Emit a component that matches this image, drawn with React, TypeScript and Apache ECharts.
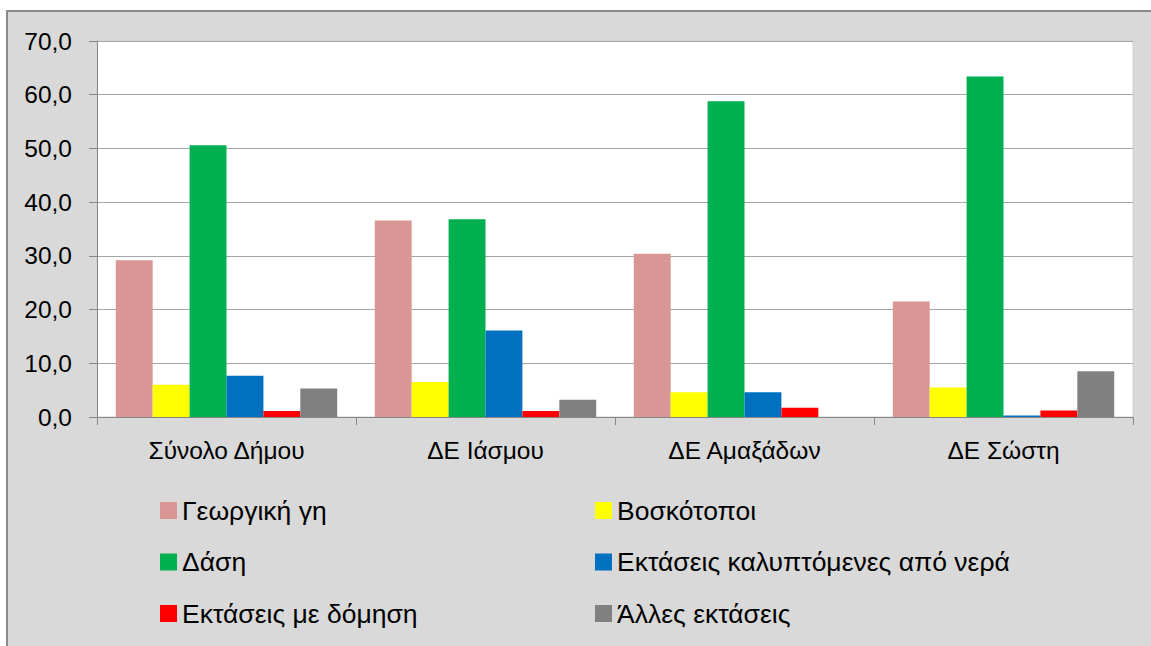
import React, { useEffect, useRef } from "react";
import * as echarts from "echarts";

const categories = ["Σύνολο Δήμου", "ΔΕ Ιάσμου", "ΔΕ Αμαξάδων", "ΔΕ Σώστη"];
const seriesNames = [
  "Γεωργική γη",
  "Βοσκότοποι",
  "Δάση",
  "Εκτάσεις καλυπτόμενες από νερά",
  "Εκτάσεις με δόμηση",
  "Άλλες εκτάσεις",
];
const agricultural = [29.2, 36.6, 30.4, 21.5];
const pastures = [6.0, 6.5, 4.6, 5.5];
const forests = [50.6, 36.8, 58.8, 63.4];
const water = [7.7, 16.1, 4.6, 0.3];
const builtUp = [1.1, 1.1, 1.7, 1.2];
const other = [5.3, 3.2, 0.0, 8.5];
const seriesValues = [agricultural, pastures, forests, water, builtUp, other];
const colors = ["#D99694", "#FFFF00", "#00B050", "#0070C0", "#FF0000", "#808080"];
const yTicks = [0, 10, 20, 30, 40, 50, 60, 70];

const FONT = "'Liberation Sans', Arial, sans-serif";

export default function App() {
  const ref = useRef<HTMLDivElement>(null);
  useEffect(() => {
    if (!ref.current) return;
    const chart = echarts.init(ref.current, undefined, { renderer: "svg" });
    const legendText = { fontSize: 26.5, color: "#000", fontFamily: FONT, lineHeight: 26 };
    chart.setOption({
      animation: false,
      backgroundColor: "#ffffff",
      textStyle: { fontFamily: FONT },
      graphic: [
        {
          type: "rect",
          z: -10,
          silent: true,
          shape: { x: 7, y: 11, width: 1160, height: 650 },
          style: { fill: "#D9D9D9", stroke: "#8C8C8C", lineWidth: 2 },
        },
      ],
      grid: {
        left: 97,
        right: 18,
        top: 41,
        bottom: 229,
        show: true,
        backgroundColor: "#ffffff",
        borderColor: "#D0D0D0",
        borderWidth: 1,
        containLabel: false,
      },
      legend: [
        {
          orient: "vertical",
          left: 155,
          top: 492,
          padding: 5,
          itemWidth: 17,
          itemHeight: 17,
          itemGap: 24.5,
          icon: "rect",
          data: [seriesNames[0], seriesNames[2], seriesNames[4]],
          textStyle: legendText,
        },
        {
          orient: "vertical",
          left: 590,
          top: 492,
          padding: 5,
          itemWidth: 17,
          itemHeight: 17,
          itemGap: 24.5,
          icon: "rect",
          data: [seriesNames[1], seriesNames[3], seriesNames[5]],
          textStyle: legendText,
        },
      ],
      xAxis: {
        type: "category",
        data: categories,
        axisLine: { show: true, lineStyle: { color: "#868686", width: 1 } },
        axisTick: { show: true, length: 8, alignWithLabel: false, lineStyle: { color: "#868686" } },
        axisLabel: { fontSize: 24.5, color: "#000", margin: 21, fontFamily: FONT },
        splitLine: { show: false },
      },
      yAxis: {
        type: "value",
        min: yTicks[0],
        max: yTicks[yTicks.length - 1],
        interval: 10,
        axisLine: { show: true, lineStyle: { color: "#868686", width: 1 } },
        axisTick: { show: true, length: 8, lineStyle: { color: "#868686" } },
        axisLabel: {
          fontSize: 24.5,
          color: "#000",
          margin: 25,
          fontFamily: FONT,
          formatter: (v: number) => v.toFixed(1).replace(".", ","),
        },
        splitLine: { show: true, lineStyle: { color: "#A6A6A6", width: 1 } },
      },
      series: seriesNames.map((name, i) => ({
        name,
        type: "bar",
        data: seriesValues[i],
        barGap: "0%",
        barCategoryGap: "14.5%",
        itemStyle: { color: colors[i] },
      })),
    });
    return () => chart.dispose();
  }, []);
  return (
    <div
      ref={ref}
      style={{ position: "fixed", left: 0, top: 0, width: 1151, height: 646 }}
    />
  );
}
